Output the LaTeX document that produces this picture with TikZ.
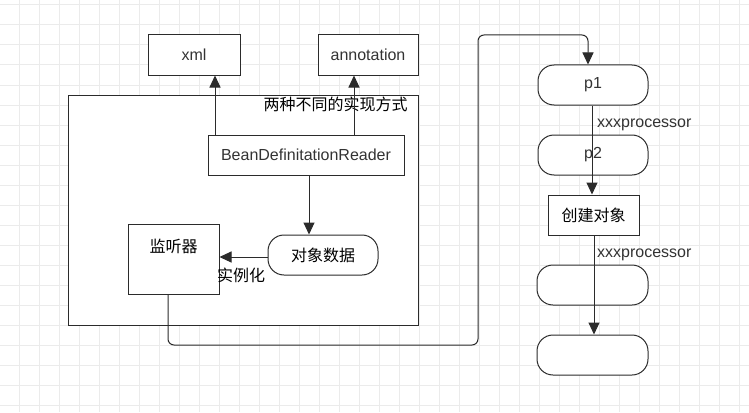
\documentclass[tikz,border=0pt]{standalone}
\usepackage{fontspec}
\setmainfont{Liberation Sans}
\newfontfamily\cjk{Noto Sans CJK SC}
\usetikzlibrary{arrows.meta}
\definecolor{gridc}{HTML}{EBEBEB}
\definecolor{linec}{HTML}{2B2B2B}
\definecolor{txtc}{HTML}{333333}
\begin{document}
\begin{tikzpicture}[x=1pt,y=-1pt,
  every node/.style={font=\fontsize{16}{19}\selectfont, text=txtc},
  box/.style={draw=linec, fill=white, line width=1pt, inner sep=0pt, minimum height=40pt},
  pill/.style={box, rounded corners=16pt},
  lbl/.style={inner sep=0pt, fill=none, draw=none},
  arr/.style={draw=linec, line width=1pt, -{Triangle[length=12pt,width=11pt]}},
  ]
\useasboundingbox (0,0) rectangle (749,412);
\fill[white] (0,0) rectangle (749,412);
\foreach \x in {19,39,...,739} \draw[gridc, line width=1pt] (\x,0) -- (\x,412);
\foreach \y in {5,25,...,405} \draw[gridc, line width=1pt] (0,\y) -- (749,\y);

% boxes
\node[box, minimum width=92pt] (xml) at (194,55) {xml};
\node[box, minimum width=100pt] (ann) at (368,55) {annotation};
\node[box, minimum width=350pt, minimum height=230pt] (cont) at (243,210) {};
\node[lbl, text=black] (title) at (335.5,104) {\cjk 两种不同的实现方式};
\node[box, minimum width=196pt] (bdr) at (306,155) {BeanDefinitationReader};
\node[pill, minimum width=110pt, text=black] (obj) at (323,255) {\cjk 对象数据};
\node[box, minimum width=91pt, minimum height=70pt] (lis) at (173.5,259.5) {};
\node[lbl, text=black] (listxt) at (173.5,246) {\cjk 监听器};

\node[pill, minimum width=110pt] (p1) at (593,85) {p1};
\node[pill, minimum width=110pt] (p2) at (593,155) {p2};
\node[box, minimum width=91pt, text=black] (cre) at (593.5,215) {\cjk 创建对象};
\node[pill, minimum width=111pt] (e3) at (592.5,285) {};
\node[pill, minimum width=111pt] (e4) at (592.5,355) {};

% helper coordinates
\coordinate (xa) at (215,0);
\coordinate (aa) at (354,0);
\coordinate (oa) at (309,0);
\coordinate (la) at (0,257);
\coordinate (lb) at (168,0);
\coordinate (c1) at (168,345);
\coordinate (c2) at (478,345);
\coordinate (c3) at (478,35);
\coordinate (c4) at (588,35);
\coordinate (pa) at (592,0);
\coordinate (ca) at (594,0);

% connectors
\draw[arr] (bdr.north -| xa) -- (xml.south -| xa);
\draw[arr] (bdr.north -| aa) -- (ann.south -| aa);
\draw[arr] (bdr.south -| oa) -- (obj.north -| oa);
\draw[arr] (obj.west |- la) -- (lis.east |- la) node[lbl, text=black, pos=1, anchor=north west, xshift=-3pt, yshift=-10pt] (inst) {\cjk 实例化};
\draw[arr, rounded corners=6pt] (lis.south -| lb) -- (c1) -- (c2) -- (c3) -- (c4) -- (p1.north -| c4);
\draw[arr] (p1.south -| pa) -- (cre.north -| pa);
\draw[arr] (cre.south -| ca) -- (e4.north -| ca);
\node[lbl, anchor=west] (x1) at (597,125) {xxxprocessor};
\node[lbl, anchor=west] (x2) at (597,255) {xxxprocessor};
\end{tikzpicture}
\end{document}
